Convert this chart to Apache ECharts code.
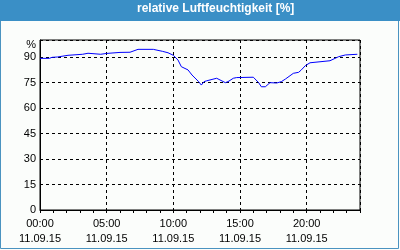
<!DOCTYPE html>
<html><head><meta charset="utf-8">
<script src="https://cdn.jsdelivr.net/npm/echarts@6/dist/echarts.min.js"></script>
<style>html,body{margin:0;padding:0;background:#fbfdfb}#c{width:400px;height:250px}</style>
</head><body><div id="c"></div>
<script>
var titleText = 'relative Luftfeuchtigkeit [%]';
var dateLabel = '11.09.15';
var hours = [0,0.7,0.9,1.3,1.45,2.1,2.2,3.2,3.3,3.6,3.7,4.55,4.6,5.0,6.0,6.75,7.35,8.5,9.2,9.6,10.0,10.35,10.6,11.1,11.4,11.9,12.1,12.3,12.5,13.25,13.5,13.9,14.1,14.5,14.75,16.0,16.4,16.6,16.9,17.25,17.75,18.1,18.4,19.0,19.4,19.6,19.9,20.25,21.0,21.75,22.4,22.9,23.8];
var humidity = [89.2,89.2,89.8,90.0,91.0,91.0,91.6,91.6,92.2,92.2,91.6,91.6,92.0,92.1,92.7,92.8,94.5,94.5,93.3,92.5,91.0,88.2,84.3,82.4,79.4,75.5,73.5,75.5,76.0,77.5,76.5,74.9,75.5,77.5,77.9,78.1,74.9,72.5,72.5,74.9,74.7,75.5,77.0,80.4,81.0,82.4,84.9,86.6,87.2,87.8,90.2,91.2,91.6];
var yTicks = [0,15,30,45,60,75,90];

var data = hours.map(function(h,i){return [h, humidity[i]];});
var font = 'Liberation Sans';
var chart = echarts.init(document.getElementById('c'), null, {renderer:'canvas'});
function pad(n){return (n<10?'0':'')+n;}
chart.setOption({
  backgroundColor:'#fbfdfb',
  animation:false,
  graphic:[
    {type:'rect', shape:{x:0.5,y:0.5,width:398,height:248}, style:{fill:null, stroke:'#4a93c0', lineWidth:1}, z:-1},
    {type:'rect', shape:{x:0,y:0,width:400,height:21}, style:{fill:'#3a8fc6'}, z:-1},
    {type:'text', left:137, top:3, style:{text:titleText, fill:'#fff', font:'bold 12px "Liberation Sans"'}}
  ],
  grid:{left:40, right:40, top:40, bottom:40, show:true, borderColor:'#000', borderWidth:1, backgroundColor:'transparent'},
  xAxis:[{
    type:'value', min:0, max:24, interval:5,
    axisLine:{lineStyle:{color:'#000', width:1}},
    axisTick:{show:true, length:3, lineStyle:{color:'#000'}},
    axisLabel:{color:'#000', fontFamily:font, fontSize:11, margin:6, lineHeight:15, showMaxLabel:false,
      formatter:function(v){ if(v>=24) return ''; return pad(v)+':00\n'+dateLabel; }},
    splitLine:{show:true, lineStyle:{color:'#000', type:[3,3], width:1}}
  },{
    type:'value', min:0, max:24, interval:1, position:'bottom',
    axisLine:{show:false}, axisLabel:{show:false}, splitLine:{show:false},
    axisTick:{show:true, length:3, lineStyle:{color:'#000'}}
  }],
  yAxis:{
    type:'value', min:0, max:100, interval:15,
    axisLine:{show:true, lineStyle:{color:'#000'}},
    axisTick:{show:false},
    axisLabel:{color:'#000', fontFamily:font, fontSize:11, margin:4,
      formatter:function(v){ if(v>=100) return '{p|%}'; return yTicks.indexOf(v)>=0 ? String(v) : ''; },
      rich:{p:{padding:[10,0,0,0], fontFamily:font, fontSize:11, color:'#000'}}},
    splitLine:{show:true, lineStyle:{color:'#000', type:[3,3], width:1}}
  },
  series:[{type:'line', data:data, showSymbol:false, symbol:'none', lineStyle:{color:'#0000ff', width:1}, xAxisIndex:0}]
});
</script></body></html>
